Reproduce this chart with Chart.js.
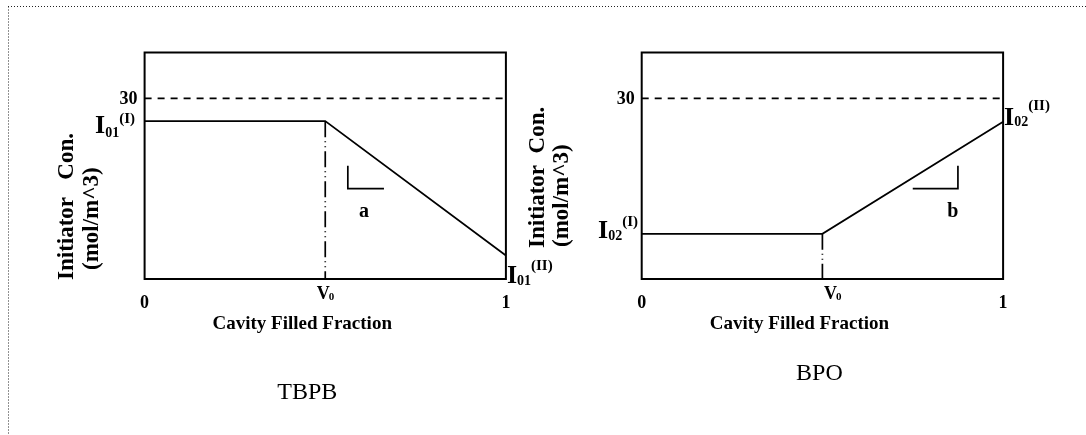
<!DOCTYPE html>
<html>
<head>
<meta charset="utf-8">
<title>Initiator concentration vs cavity filled fraction</title>
<script src="https://cdn.jsdelivr.net/npm/chart.js@4.4.1/dist/chart.umd.min.js"></script>
<style>
  html, body { margin: 0; padding: 0; background: #fff; }
  #wrap { position: relative; width: 1086px; height: 435px; overflow: hidden; }
  #wrap canvas { position: absolute; left: 0; top: 0; }
</style>
</head>
<body>
<div id="wrap">
  <canvas id="tbpb" width="1086" height="435"></canvas>
  <canvas id="bpo" width="1086" height="435"></canvas>
</div>
<script>
// values
const xFraction = [0, 0.5, 1];
const tbpbConc = [26.2, 26.2, 3.9];   // I01(I) ... I01(II)
const bpoConc = [7.5, 7.5, 26.1];     // I02(I) ... I02(II)
const v0 = 0.5;
const upperLimit = 30;
const yMax = 37.6;

const xTickValues = [0, 0.5, 1];
const xTickLabels = ['0', 'V_0', '1'];
const yTickValues = [30];
const yTickLabels = ['30'];

// little slope marks
const slopeAX = [0.5625, 0.5625, 0.6625];
const slopeAY = [18.8, 15.0, 15.0];
const slopeBX = [0.75, 0.875, 0.875];
const slopeBY = [15.0, 15.0, 18.8];

const SERIF = "'Liberation Serif', 'Times New Roman', serif";

function pts(xs, ys) {
  return xs.map((x, i) => ({ x: x, y: ys[i] }));
}

// I with subscript and superscript, drawn left to right
function drawIndexed(ctx, x, y, lbl) {
  ctx.textAlign = 'left';
  ctx.textBaseline = 'alphabetic';
  ctx.font = 'bold 26px ' + SERIF;
  const wMain = ctx.measureText('I').width;
  ctx.font = 'bold 14px ' + SERIF;
  const wSub = ctx.measureText(lbl.sub).width;
  ctx.font = 'bold 15px ' + SERIF;
  const wSup = ctx.measureText(lbl.sup).width;
  let left = x + lbl.dx;
  if (lbl.alignRight) left = x + lbl.dx - (wMain + wSub + wSup);
  ctx.font = 'bold 26px ' + SERIF;
  ctx.fillText('I', left, y + lbl.dy[0]);
  ctx.font = 'bold 14px ' + SERIF;
  ctx.fillText(lbl.sub, left + wMain, y + lbl.dy[1]);
  ctx.font = 'bold 15px ' + SERIF;
  ctx.fillText(lbl.sup, left + wMain + wSub, y + lbl.dy[2]);
}

const decorPlugin = {
  id: 'decor',
  beforeDraw(chart) {
    const opts = chart.options.plugins.decor;
    if (!opts.frame) return;
    const ctx = chart.ctx;
    ctx.save();
    ctx.strokeStyle = '#222';
    ctx.lineWidth = 1;
    ctx.setLineDash([1, 2]);
    ctx.beginPath();
    ctx.moveTo(8, 6.5);
    ctx.lineTo(1086, 6.5);
    ctx.moveTo(8.5, 6.5);
    ctx.lineTo(8.5, 435);
    ctx.stroke();
    ctx.restore();
  },
  afterDatasetsDraw(chart) {
    const opts = chart.options.plugins.decor;
    const ctx = chart.ctx;
    const area = chart.chartArea;
    const xs = chart.scales.x;
    const ys = chart.scales.y;
    ctx.save();
    ctx.setLineDash([]);
    ctx.strokeStyle = '#000';
    ctx.lineWidth = 2;
    ctx.strokeRect(area.left, area.top, area.right - area.left, area.bottom - area.top);

    ctx.fillStyle = '#000';
    // x ticks
    xTickValues.forEach((v, i) => {
      const px = xs.getPixelForValue(v);
      const parts = xTickLabels[i].split('_');
      if (parts.length === 1) {
        ctx.font = 'bold 18px ' + SERIF;
        ctx.textAlign = 'center';
        ctx.fillText(parts[0], px, area.bottom + 29);
      } else {
        ctx.font = 'bold 18px ' + SERIF;
        ctx.textAlign = 'left';
        const left = px + opts.v0dx;
        ctx.fillText(parts[0], left, area.bottom + 20);
        const w = ctx.measureText(parts[0]).width;
        ctx.font = 'bold 11px ' + SERIF;
        ctx.fillText(parts[1], left + w - 1, area.bottom + 21);
      }
    });
    // y ticks
    yTickValues.forEach((v, i) => {
      const py = ys.getPixelForValue(v);
      ctx.font = 'bold 18px ' + SERIF;
      ctx.textAlign = 'right';
      ctx.fillText(yTickLabels[i], area.left - 7, py + 5.5);
    });
    // axis titles
    const cx = (area.left + area.right) / 2;
    ctx.font = 'bold 19px ' + SERIF;
    ctx.textAlign = 'center';
    ctx.fillText('Cavity Filled Fraction', cx - 23, area.bottom + 50);

    ctx.font = 'bold 23px ' + SERIF;
    ctx.textAlign = 'left';
    opts.yTitle.forEach(line => {
      ctx.save();
      ctx.translate(area.left + line.dx, line.y);
      ctx.rotate(-Math.PI / 2);
      ctx.fillText(line.text, 0, 0);
      ctx.restore();
    });

    // point labels
    opts.pointLabels.forEach(lbl => {
      drawIndexed(ctx, xs.getPixelForValue(lbl.at[0]), ys.getPixelForValue(lbl.at[1]), lbl);
    });

    // slope letter
    ctx.font = 'bold 20px ' + SERIF;
    ctx.textAlign = 'center';
    ctx.fillText(opts.slope.text, xs.getPixelForValue(opts.slope.at[0]) + opts.slope.dx,
      ys.getPixelForValue(opts.slope.at[1]) + 28);

    // caption
    ctx.font = '24px ' + SERIF;
    ctx.fillText(opts.caption.text, cx + opts.caption.dx, opts.caption.y);
    ctx.restore();
  }
};

function makeChart(id, conc, slopeX, slopeY, padding, decor) {
  const line = { borderColor: '#000', pointRadius: 0, fill: false, tension: 0, clip: false };
  return new Chart(document.getElementById(id), {
    type: 'line',
    data: {
      datasets: [
        Object.assign({ data: pts(xFraction, conc), borderWidth: 1.7 }, line),
        Object.assign({ data: pts([v0, v0], [conc[1], 0]), borderWidth: 1.7, borderDash: [16, 4, 1, 4, 1, 4] }, line),
        Object.assign({ data: pts([0, 1], [upperLimit, upperLimit]), borderWidth: 1.7, borderDash: [7, 6] }, line),
        Object.assign({ data: pts(slopeX, slopeY), borderWidth: 1.7 }, line)
      ]
    },
    options: {
      responsive: false,
      animation: false,
      devicePixelRatio: 1,
      layout: { padding: padding },
      scales: {
        x: { type: 'linear', min: 0, max: 1, display: false },
        y: { type: 'linear', min: 0, max: yMax, display: false }
      },
      plugins: {
        legend: { display: false },
        tooltip: { enabled: false },
        decor: decor
      }
    },
    plugins: [decorPlugin]
  });
}

makeChart('tbpb', tbpbConc, slopeAX, slopeAY,
  { left: 144.6, right: 580.1, top: 52.5, bottom: 156 },
  {
    frame: true,
    v0dx: -8.5,
    yTitle: [
      { text: 'Initiator   Con.', dx: -71.6, y: 280 },
      { text: '(mol/m^3)', dx: -46.6, y: 270 }
    ],
    pointLabels: [
      { at: [0, tbpbConc[0]], dx: -9.6, alignRight: true, dy: [12, 16, 1.5], sub: '01', sup: '(I)' },
      { at: [1, tbpbConc[2]], dx: 1, dy: [27.5, 29.5, 14], sub: '01', sup: '(II)' }
    ],
    slope: { text: 'a', at: [0.6125, 15.0], dx: -2 },
    caption: { text: 'TBPB', dx: -18, y: 399 }
  });

makeChart('bpo', bpoConc, slopeBX, slopeBY,
  { left: 641.7, right: 82.9, top: 52.5, bottom: 156 },
  {
    frame: false,
    v0dx: 1.5,
    yTitle: [
      { text: 'Initiator  Con.', dx: -97.7, y: 248 },
      { text: '(mol/m^3)', dx: -73.7, y: 247 }
    ],
    pointLabels: [
      { at: [0, bpoConc[0]], dx: -3.7, alignRight: true, dy: [4, 6, -8.3], sub: '02', sup: '(I)' },
      { at: [1, bpoConc[2]], dx: 1, dy: [3, 4.7, -11.3], sub: '02', sup: '(II)' }
    ],
    slope: { text: 'b', at: [0.875, 15.0], dx: -5 },
    caption: { text: 'BPO', dx: -3, y: 380 }
  });
</script>
</body>
</html>
